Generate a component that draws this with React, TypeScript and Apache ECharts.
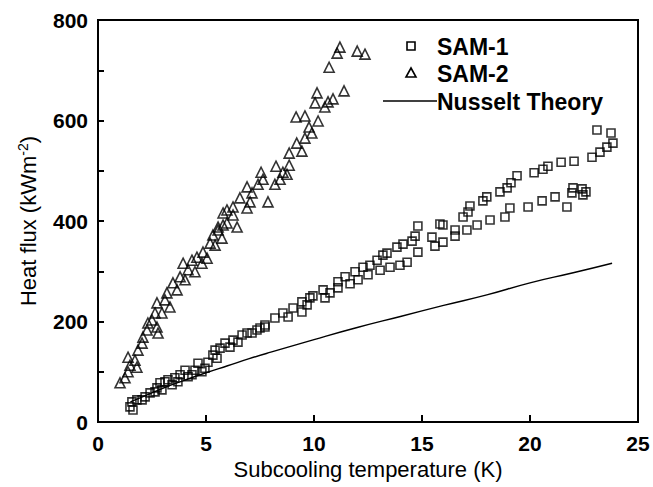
import React, { useEffect, useRef } from "react";
import * as echarts from "echarts";

const xTicks = [0, 5, 10, 15, 20, 25];
const yTicks = [0, 200, 400, 600, 800];

const sam1: [number, number][] = [
  [1.48, 30], [1.62, 24], [1.57, 40], [1.8, 44], [2.04, 44], [2.18, 50], [2.41, 58], [2.64, 60],
  [2.73, 68], [2.96, 64], [2.87, 78], [3.1, 80], [3.24, 84], [3.43, 74], [3.56, 88], [3.7, 80],
  [3.8, 94], [4.03, 103], [4.17, 90], [4.35, 94], [4.49, 103], [4.63, 117], [4.81, 100], [4.95, 107],
  [5.09, 119], [5.32, 133], [5.51, 127], [5.42, 143], [5.65, 147], [5.88, 157], [6.11, 149], [6.25, 163],
  [6.48, 159], [6.67, 173], [6.9, 177], [7.13, 177], [7.36, 183], [7.5, 187], [7.73, 193], [7.73, 189],
  [8.19, 207], [8.56, 217], [8.8, 209], [9.03, 227], [9.44, 239], [9.44, 219], [9.68, 233], [9.81, 247],
  [9.95, 251], [10.42, 263], [10.51, 247], [10.74, 257], [11.11, 267], [11.11, 279], [11.44, 289], [11.67, 275],
  [11.9, 299], [12.04, 283], [12.27, 308], [12.5, 293], [12.59, 312], [12.92, 322], [13.06, 302], [13.19, 332],
  [13.38, 336], [13.52, 308], [13.84, 348], [13.98, 312], [14.12, 354], [14.31, 318], [14.54, 360], [14.68, 370],
  [14.81, 338], [14.81, 390], [15.46, 368], [15.83, 394], [15.6, 350], [15.97, 358], [15.97, 392], [16.53, 382],
  [16.53, 370], [16.9, 408], [17.13, 418], [17.22, 430], [17.08, 382], [17.55, 392], [17.82, 440], [18.0, 448],
  [18.15, 402], [18.61, 458], [18.94, 466], [18.84, 408], [19.07, 426], [19.12, 476], [19.4, 490], [19.91, 428],
  [20.19, 496], [20.56, 440], [20.6, 503], [20.83, 509], [21.16, 448], [21.44, 517], [21.71, 428], [21.94, 456],
  [21.99, 466], [22.04, 519], [22.41, 464], [22.45, 452], [22.59, 458], [22.87, 527], [23.24, 537], [23.56, 547],
  [23.84, 555], [23.1, 581], [23.75, 575],
];

const sam2: [number, number][] = [
  [1.02, 78], [1.25, 88], [1.39, 100], [1.48, 113], [1.39, 129], [1.8, 109], [1.71, 123], [1.85, 143],
  [2.04, 157], [2.08, 169], [2.27, 183], [2.31, 197], [2.5, 203], [2.78, 177], [2.73, 189], [2.73, 237],
  [2.64, 217], [2.96, 217], [3.1, 243], [3.19, 257], [3.33, 229], [3.47, 277], [3.66, 263], [3.8, 289],
  [3.94, 316], [4.03, 283], [4.17, 303], [4.35, 322], [4.49, 299], [4.58, 328], [4.81, 316], [4.86, 338],
  [5.05, 326], [5.19, 356], [5.32, 372], [5.42, 352], [5.56, 382], [5.74, 366], [5.79, 416], [5.79, 392],
  [5.97, 396], [6.44, 388], [5.56, 388], [5.97, 422], [6.25, 428], [6.25, 412], [6.9, 426], [7.87, 438],
  [7.04, 438], [6.57, 446], [7.13, 456], [6.9, 468], [7.41, 473], [8.19, 473], [7.64, 483], [8.43, 483],
  [7.55, 497], [8.75, 493], [8.56, 497], [8.24, 509], [8.85, 511], [8.85, 535], [9.44, 539], [9.2, 555],
  [9.58, 565], [9.9, 575], [9.77, 587], [10.19, 599], [9.58, 609], [9.17, 607], [10.88, 643], [10.65, 637],
  [10.5, 627], [10.05, 635], [10.14, 655], [11.39, 659], [10.7, 706], [12.36, 732], [12.0, 738], [11.07, 734],
  [11.2, 746],
];

const nusselt: [number, number][] = [
  [1.5, 40], [2, 49], [3, 67], [4, 83], [5, 98], [6, 112], [7, 126], [8, 139], [10, 164], [12, 188],
  [14, 210], [16, 232], [18, 253], [20, 277], [22, 297], [23.8, 316],
];

const seriesNames = ["SAM-1", "SAM-2", "Nusselt Theory"];

export default function App() {
  const ref = useRef<HTMLDivElement>(null);
  useEffect(() => {
    if (!ref.current) return;
    const chart = echarts.init(ref.current, undefined, { renderer: "svg" });
    const hollow = { color: "rgba(255,255,255,0)", borderColor: "#000", borderWidth: 1.6 };
    const legendText = { fontFamily: "Liberation Sans", fontWeight: "bold", fontSize: 23, fill: "#000" };
    chart.setOption({
      animation: false,
      backgroundColor: "#fff",
      grid: { left: 98, right: 15, top: 20, bottom: 65, show: true, borderColor: "#000", borderWidth: 2 },
      legend: { show: false, data: seriesNames },
      graphic: [
        { type: "rect", shape: { x: 407, y: 42, width: 8, height: 8 }, style: { fill: "none", stroke: "#000", lineWidth: 1.6 } },
        { type: "text", x: 437, y: 47, style: { ...legendText, text: seriesNames[0], verticalAlign: "middle" } },
        { type: "polygon", shape: { points: [[411, 68], [416, 77], [406, 77]] }, style: { fill: "none", stroke: "#000", lineWidth: 1.6 } },
        { type: "text", x: 437, y: 74, style: { ...legendText, text: seriesNames[1], verticalAlign: "middle" } },
        { type: "line", shape: { x1: 383, y1: 101, x2: 437, y2: 101 }, style: { stroke: "#000", lineWidth: 1.4 } },
        { type: "text", x: 437, y: 102, style: { ...legendText, text: seriesNames[2], verticalAlign: "middle" } },
      ],
      xAxis: {
        type: "value",
        min: xTicks[0],
        max: xTicks[xTicks.length - 1],
        interval: 5,
        name: "Subcooling temperature (K)",
        nameLocation: "middle",
        nameGap: 32,
        nameTextStyle: { fontFamily: "Liberation Sans", fontSize: 22, color: "#000" },
        axisLine: { lineStyle: { color: "#000", width: 2 } },
        axisTick: { inside: true, length: 7, lineStyle: { color: "#000", width: 2 } },
        axisLabel: { margin: 11, fontFamily: "Liberation Sans", fontWeight: "bold", fontSize: 21, color: "#000" },
        splitLine: { show: false },
      },
      yAxis: {
        type: "value",
        min: yTicks[0],
        max: yTicks[yTicks.length - 1],
        interval: 100,
        name: "Heat flux (kWm{sup|-2})",
        nameLocation: "middle",
        nameGap: 58,
        nameTextStyle: {
          fontFamily: "Liberation Sans",
          fontSize: 22,
          color: "#000",
          rich: { sup: { fontFamily: "Liberation Sans", fontSize: 14, verticalAlign: "top", padding: [0, 0, 10, 0] } },
        },
        axisLine: { lineStyle: { color: "#000", width: 2 } },
        axisTick: { inside: true, length: 6, lineStyle: { color: "#000", width: 2 } },
        axisLabel: {
          margin: 10,
          fontFamily: "Liberation Sans",
          fontWeight: "bold",
          fontSize: 21,
          color: "#000",
          formatter: (v: number) => (yTicks.includes(v) ? String(v) : ""),
        },
        splitLine: { show: false },
      },
      series: [
        {
          name: seriesNames[0],
          type: "scatter",
          data: sam1,
          symbol: "rect",
          symbolSize: 8,
          itemStyle: hollow,
        },
        {
          name: seriesNames[1],
          type: "scatter",
          data: sam2,
          symbol: "triangle",
          symbolSize: 10,
          itemStyle: hollow,
        },
        {
          name: seriesNames[2],
          type: "line",
          data: nusselt,
          symbol: "none",
          smooth: true,
          lineStyle: { color: "#000", width: 1.4 },
          itemStyle: { color: "#000" },
        },
      ],
    });
    return () => chart.dispose();
  }, []);
  return <div ref={ref} style={{ position: "fixed", left: 0, top: 0, width: 653, height: 487 }} />;
}
